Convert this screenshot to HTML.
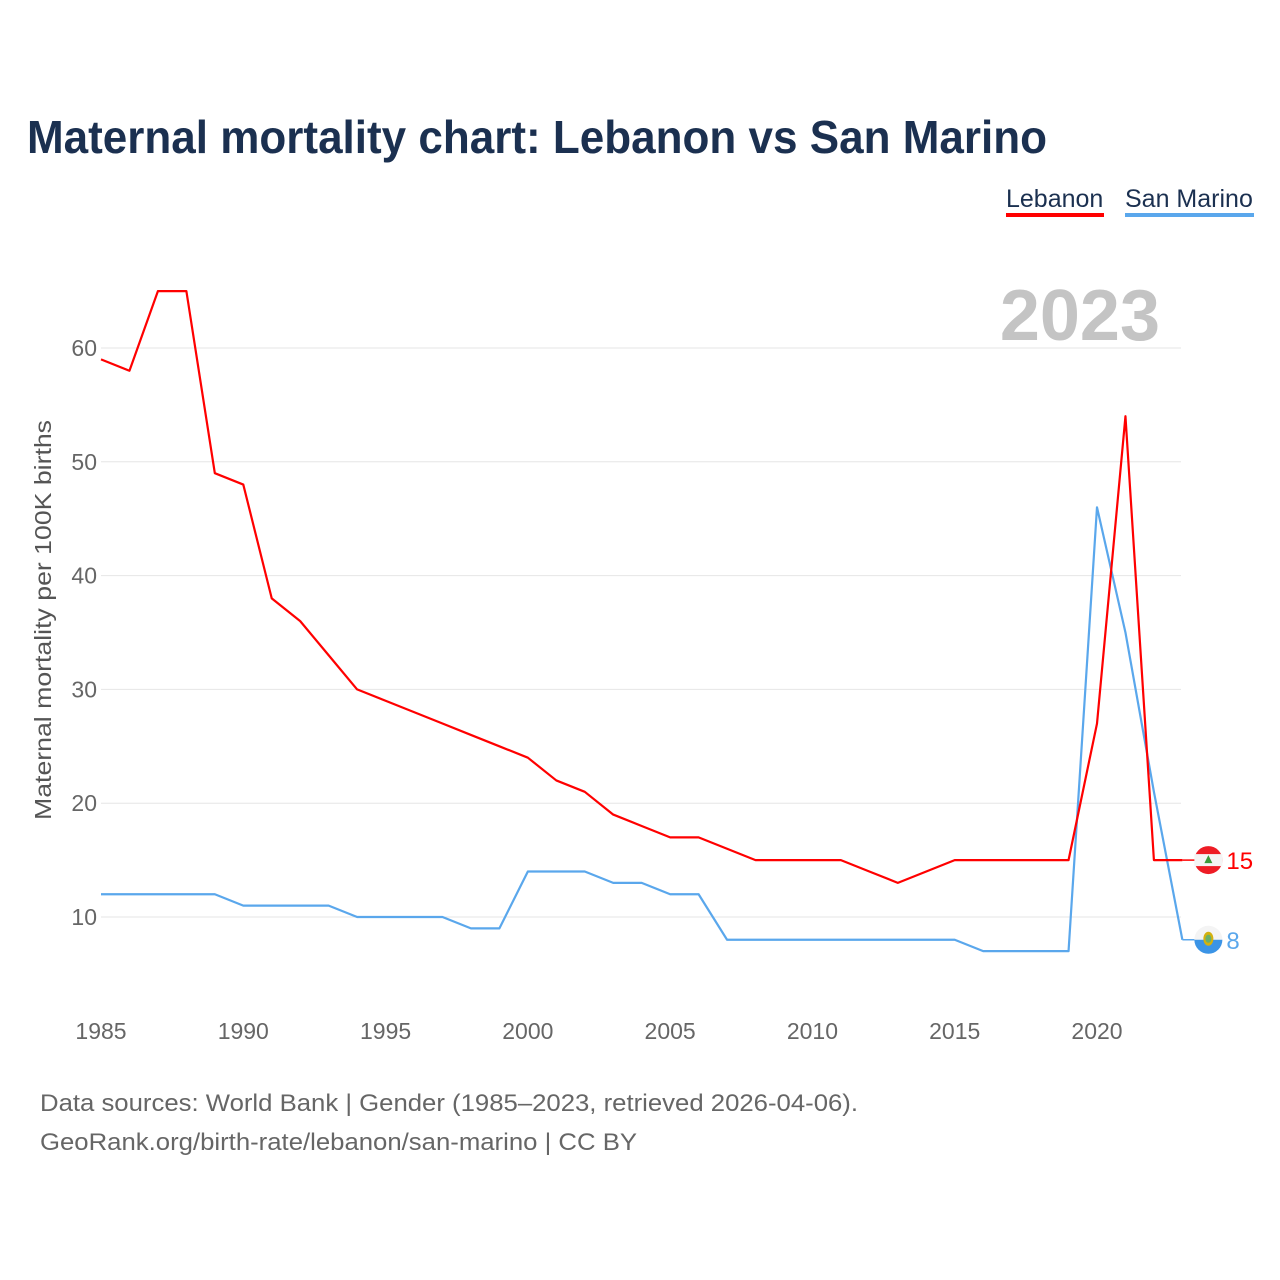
<!DOCTYPE html>
<html><head><meta charset="utf-8"><style>
body{margin:0;background:#fff;font-family:"Liberation Sans",sans-serif}
#wrap{position:relative;width:1280px;height:1280px;overflow:hidden}
</style></head><body>
<div id="wrap">
<svg id="chart" width="1280" height="1280">
<text x="27" y="153" font-size="46" font-weight="bold" fill="#1b3050" textLength="1020" lengthAdjust="spacingAndGlyphs">Maternal mortality chart: Lebanon vs San Marino</text>
<g><text x="1006" y="207" font-size="25" fill="#1b3050">Lebanon</text><rect x="1006" y="213" width="98" height="4" fill="#ff0000"/></g>
<g><text x="1125" y="207" font-size="25" fill="#1b3050">San Marino</text><rect x="1125" y="213" width="129" height="4" fill="#5aa7ec"/></g>
<text x="1160" y="340" font-size="72" font-weight="bold" fill="#c4c4c4" text-anchor="end">2023</text>
<text transform="translate(51,620) rotate(-90)" font-size="23" fill="#555" text-anchor="middle" textLength="400" lengthAdjust="spacingAndGlyphs">Maternal mortality per 100K births</text>
<g id="grid"></g><g id="xt"></g><g id="lines"></g><g id="ends"></g>
<text x="40" y="1111" font-size="24" fill="#666" textLength="818" lengthAdjust="spacingAndGlyphs">Data sources: World Bank | Gender (1985–2023, retrieved 2026-04-06).</text>
<text x="40" y="1150" font-size="24" fill="#666" textLength="597" lengthAdjust="spacingAndGlyphs">GeoRank.org/birth-rate/lebanon/san-marino | CC BY</text>
</svg></div>
<script>
const years=[];for(let y=1985;y<=2023;y++)years.push(y);
const lebanon=[59,58,65,65,49,48,38,36,33,30,29,28,27,26,25,24,22,21,19,18,17,17,16,15,15,15,15,14,13,14,15,15,15,15,15,27,54,15,15];
const sanMarino=[12,12,12,12,12,11,11,11,11,10,10,10,10,9,9,14,14,14,13,13,12,12,8,8,8,8,8,8,8,8,8,7,7,7,7,46,35,21,8];
const yTicks=[10,20,30,40,50,60];
const xTicks=[1985,1990,1995,2000,2005,2010,2015,2020];
const NS="http://www.w3.org/2000/svg";
const xs=y=>101+(y-1985)*(1097-101)/35;
const ys=v=>917-(v-10)*(917-348)/50;
function mk(t,a,p){const e=document.createElementNS(NS,t);for(const k in a)e.setAttribute(k,a[k]);p.appendChild(e);return e;}
const grid=document.getElementById('grid');
yTicks.forEach(v=>{
 const l=mk('line',{x1:101,x2:1181,y1:ys(v),y2:ys(v),stroke:'#e6e6e6','stroke-width':1},grid);
 
 
 const t=mk('text',{x:97,y:ys(v)+8,'font-size':23,fill:'#666','text-anchor':'end'},grid);t.textContent=v;
 
 
});
const xt=document.getElementById('xt');
xTicks.forEach(v=>{
 const t=mk('text',{x:xs(v),y:1039,'font-size':23,fill:'#666','text-anchor':'middle'},xt);t.textContent=v;
 
 
});
const lines=document.getElementById('lines');
function series(data,color,name){
 const p=mk('polyline',{points:data.map((v,i)=>xs(years[i])+','+ys(v)).join(' '),fill:'none',stroke:color,'stroke-width':2.2,'stroke-linejoin':'round'},lines);
 
 
}
series(sanMarino,'#5aa7ec','san-marino');
series(lebanon,'#ff0000','lebanon');
const ends=document.getElementById('ends');
function endMark(data,color,name,flag){
 const v=data[data.length-1],x=xs(2023),y=ys(v),cx=x+26;
 mk('line',{x1:x,x2:cx-12,y1:y,y2:y,stroke:color,'stroke-width':1.5},ends);
 const g=mk('g',{},ends);
 
 
 flag(g,cx,y);
 const t=mk('text',{x:cx+18,y:y+9,'font-size':24,fill:color},ends);t.textContent=v;
 
 
}
endMark(lebanon,'#ff0000','lebanon',(g,cx,cy)=>{
 mk('circle',{cx,cy,r:14,fill:'#ee1c25'},g);
 mk('rect',{x:cx-14,y:cy-6,width:28,height:12,fill:'#f4f4f4'},g);
 mk('polygon',{points:`${cx},${cy-5} ${cx-4},${cy+3} ${cx+4},${cy+3}`,fill:'#3a9a3a'},g);
});
endMark(sanMarino,'#5aa7ec','san-marino',(g,cx,cy)=>{
 mk('circle',{cx,cy,r:14,fill:'#f4f4f4'},g);
 mk('path',{d:`M${cx-14},${cy} A14,14 0 0 0 ${cx+14},${cy} Z`,fill:'#3b94e6'},g);
 mk('ellipse',{cx,cy:cy-1,rx:5,ry:7,fill:'#d4b10e'},g);
 mk('ellipse',{cx,cy:cy-1,rx:3,ry:4,fill:'#6ab06a'},g);
});
</script>
</body></html>
